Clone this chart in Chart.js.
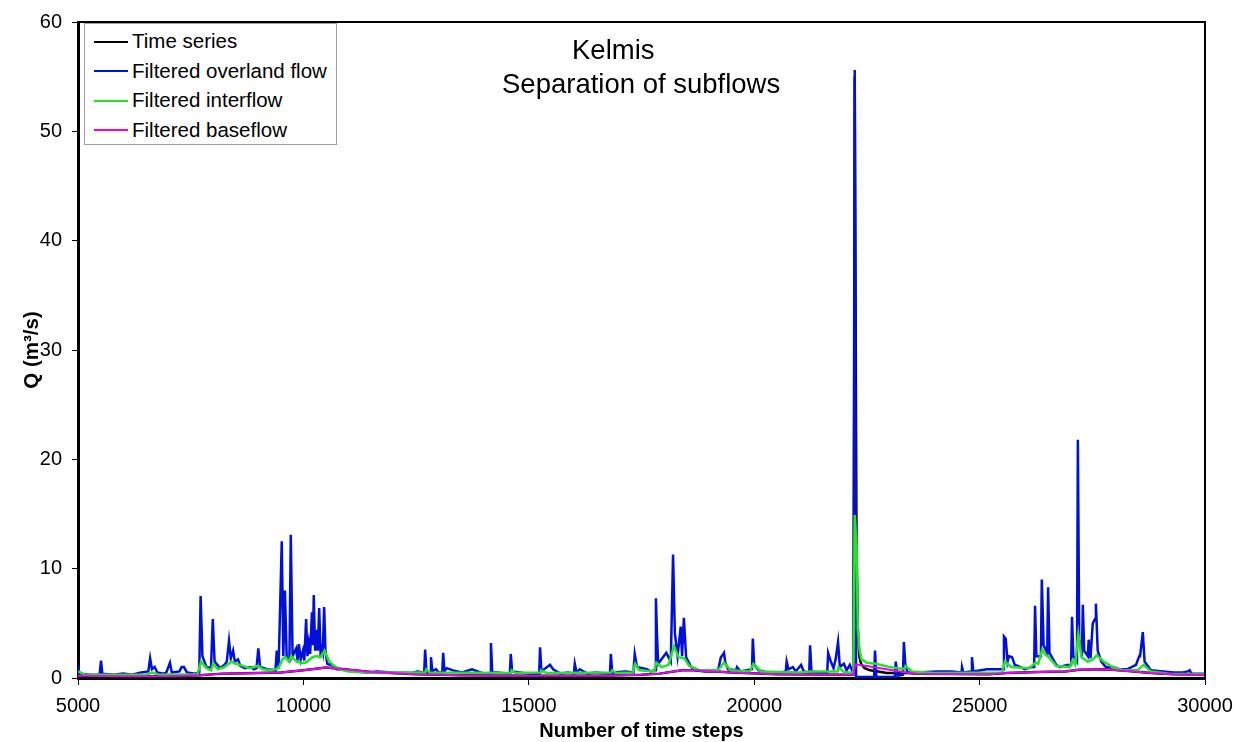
<!DOCTYPE html>
<html>
<head>
<meta charset="utf-8">
<script src="https://cdn.jsdelivr.net/npm/chart.js@4"></script>
<style>
  body { margin: 0; background: #fff; }
  #wrap { position: relative; width: 1250px; height: 742px; font-family: "Liberation Sans", Arial, sans-serif; }
  .ttl { position: absolute; font-size: 27.5px; line-height: 34px; color: #000; white-space: nowrap; }
  #legend { position: absolute; left: 84px; top: 23px; width: 253px; height: 122px; border: 1px solid #a0a0a0; background: #fff; box-sizing: border-box; }
  .row { position: absolute; left: 9px; height: 20px; font-size: 20.5px; line-height: 20px; color: #000; white-space: nowrap; }
  .row span { display: inline-block; width: 34px; height: 2px; vertical-align: middle; margin-right: 4px; position: relative; top: -1px; }
</style>
</head>
<body>
<div id="wrap">
  <canvas id="c" width="1250" height="742"></canvas>
  <div class="ttl" style="left:572px; top:33px;">Kelmis</div>
  <div class="ttl" style="left:502px; top:67px;">Separation of subflows</div>
  <div id="legend"></div>
</div>
<script>
// Q (m3/s) against time step
const timeSeries = [
  [5000,0.2],[6000,0.15],[7000,0.15],[7700,0.25],[8200,0.4],[9000,0.45],[9500,0.5],[10000,0.7],
  [10500,0.95],[10800,0.85],[11500,0.55],[12500,0.35],[13500,0.25],[15000,0.2],[16500,0.2],
  [17500,0.3],[17900,0.4],[18400,0.7],[18700,0.7],[19500,0.5],[20500,0.35],[22000,0.3],[22200,0.3],
  [22230,55],[22270,12],[22300,4.5],[22330,2.0],[22370,1.3],[22450,0.9],[22570,0.7],[22750,0.6],
  [22940,0.45],[23170,0.45],[23400,0.45],[23600,0.4],[25200,0.35],[25600,0.45],[26300,0.55],
  [26900,0.6],[27200,0.75],[27800,0.8],[28300,0.65],[28800,0.45],[29300,0.35],[30000,0.3]
];
const overlandFlow = [
  [5000,1.2],[5030,0.4],[5300,0.3],[5480,0.3],[5510,1.6],[5540,0.4],[5800,0.3],[6000,0.4],[6200,0.3],
  [6400,0.5],[6560,0.6],[6600,1.8],[6640,0.8],[6700,1.0],[6760,0.5],[6900,0.4],[6960,0.5],[7040,1.4],
  [7080,0.5],[7250,0.6],[7300,1.0],[7350,1.0],[7420,0.5],[7600,0.4],[7690,0.5],[7720,7.5],[7760,2.0],
  [7850,1.0],[7950,0.9],[7990,5.4],[8030,1.5],[8150,0.9],[8250,1.2],[8300,1.5],[8350,3.4],[8390,1.8],
  [8440,2.5],[8480,1.5],[8550,1.7],[8600,1.1],[8700,0.9],[8840,1.0],[8900,0.8],[8960,0.9],[9000,2.7],
  [9040,1.0],[9200,0.8],[9380,0.7],[9410,2.5],[9450,1.0],[9520,12.5],[9555,2.0],[9590,8.0],[9630,1.8],
  [9690,1.6],[9720,13.1],[9760,2.0],[9840,2.7],[9870,1.6],[9900,3.1],[9940,1.7],[9990,2.5],[10020,1.6],
  [10060,5.4],[10090,2.0],[10120,3.2],[10150,2.2],[10190,6.0],[10210,3.0],[10230,7.6],[10260,2.5],
  [10300,4.4],[10320,2.5],[10350,6.4],[10380,2.4],[10410,2.8],[10430,2.4],[10460,6.5],[10490,2.4],
  [10530,1.3],[10680,1.1],[10750,0.8],[11000,0.7],[11170,0.6],[11400,0.5],[11630,0.6],[12000,0.5],
  [12400,0.45],[12520,0.6],[12680,0.5],[12700,2.6],[12730,0.6],[12810,0.5],[12830,1.9],[12860,0.6],
  [12940,0.8],[13000,0.5],[13080,0.5],[13100,2.3],[13130,0.6],[13180,0.9],[13320,0.7],[13520,0.5],
  [13740,0.8],[14000,0.4],[14140,0.4],[14160,3.2],[14190,0.5],[14290,0.5],[14580,0.4],[14600,2.2],
  [14630,0.6],[15000,0.4],[15230,0.4],[15250,2.8],[15280,0.6],[15470,1.2],[15540,0.8],[15700,0.4],
  [15870,0.5],[16000,0.4],[16020,1.3],[16060,0.5],[16130,0.8],[16300,0.4],[16470,0.5],[16800,0.4],
  [16820,2.2],[16850,0.5],[17150,0.6],[17320,0.5],[17350,2.2],[17400,1.0],[17620,0.8],[17700,0.6],
  [17800,0.7],[17820,7.3],[17840,4.4],[17870,1.3],[17960,1.8],[18050,2.3],[18150,1.5],[18200,11.3],
  [18240,4.1],[18300,2.0],[18370,4.7],[18400,2.0],[18440,5.5],[18490,1.9],[18600,1.0],[18690,0.7],
  [18900,0.6],[19060,0.6],[19200,0.7],[19260,1.9],[19300,2.1],[19330,2.3],[19360,1.4],[19420,0.8],
  [19600,0.7],[19620,1.0],[19700,0.6],[19950,0.8],[19970,3.6],[20000,1.2],[20100,0.7],[20300,0.5],
  [20600,0.5],[20700,0.6],[20720,1.5],[20760,0.8],[20860,1.0],[20920,0.6],[21040,1.2],[21100,0.6],
  [21220,0.5],[21240,3.0],[21270,0.6],[21400,0.5],[21620,0.5],[21640,2.3],[21700,1.5],[21760,0.9],
  [21810,1.8],[21860,3.3],[21900,1.0],[21990,1.3],[22050,0.7],[22120,1.2],[22180,0.6],[22210,0.6],
  [22230,55.6],[22260,0.1],[22660,0.1],[22680,2.5],[22710,0.1],[23120,0.1],[23140,1.5],[23180,0.2],
  [23300,0.3],[23320,3.3],[23350,1.4],[23400,0.5],[23600,0.5],[24050,0.6],[24390,0.6],[24600,0.5],
  [24610,1.0],[24640,0.5],[24810,0.6],[24830,1.9],[24860,0.6],[25160,0.8],[25410,0.8],[25520,0.8],
  [25540,3.8],[25580,3.6],[25620,1.5],[25650,2.0],[25720,1.9],[25780,1.2],[25850,1.1],[26000,0.8],
  [26160,1.0],[26210,1.0],[26230,6.6],[26260,2.0],[26360,2.0],[26380,9.0],[26420,3.0],[26500,2.3],
  [26520,8.3],[26550,2.3],[26700,1.2],[26780,1.0],[26940,1.2],[27030,1.2],[27050,5.6],[27080,2.0],
  [27160,1.5],[27180,21.8],[27210,3.5],[27270,2.0],[27290,6.7],[27320,2.5],[27400,2.0],[27420,3.5],
  [27460,1.8],[27510,5.0],[27560,5.4],[27580,6.8],[27620,2.5],[27700,1.5],[27800,1.0],[27960,1.0],
  [28100,0.8],[28270,0.8],[28470,1.2],[28540,2.0],[28560,2.0],[28620,4.2],[28660,1.5],[28800,0.7],
  [29070,0.6],[29300,0.5],[29510,0.5],[29620,0.6],[29660,0.7],[29700,0.4],[30000,0.4]
];
const interflow = [
  [5000,0.6],[5150,0.3],[6500,0.3],[6650,0.5],[6800,0.3],[7650,0.35],[7730,1.5],[7850,0.9],[7950,0.7],
  [8000,1.3],[8100,0.8],[8250,1.0],[8400,1.5],[8500,1.3],[8600,1.2],[8800,0.9],[9000,1.1],[9100,0.8],
  [9300,0.7],[9450,0.9],[9530,1.7],[9600,1.9],[9680,1.5],[9730,2.0],[9850,1.5],[9950,1.4],[10050,1.4],
  [10200,1.9],[10300,2.0],[10380,1.9],[10470,2.5],[10560,1.6],[10650,1.2],[10800,0.8],[11000,0.6],
  [11500,0.5],[12700,0.5],[12730,0.8],[12800,0.5],[14600,0.45],[14620,0.7],[14700,0.45],[15250,0.5],
  [15270,0.7],[15400,0.45],[16820,0.5],[16850,0.7],[16950,0.45],[17300,0.5],[17360,1.3],[17450,0.7],
  [17780,0.6],[17830,1.4],[17950,1.0],[18100,1.2],[18220,2.9],[18320,1.9],[18450,1.8],[18560,1.1],
  [18800,0.7],[19200,0.7],[19330,1.4],[19480,0.7],[19900,0.6],[19980,1.3],[20150,0.6],[21000,0.5],
  [21250,0.6],[21850,0.6],[21870,1.0],[22000,0.5],[22200,0.5],[22230,14.9],[22270,12],[22300,4.4],
  [22340,2.5],[22380,1.7],[22500,1.4],[22700,1.3],[23000,1.0],[23320,0.8],[23360,1.1],[23500,0.6],
  [24000,0.45],[25500,0.5],[25560,1.5],[25700,1.0],[26100,0.9],[26240,1.4],[26300,1.3],[26390,2.6],
  [26470,2.1],[26540,1.9],[26700,1.1],[27000,1.0],[27060,1.6],[27120,1.2],[27190,4.0],[27260,1.9],
  [27400,1.5],[27520,1.7],[27600,2.1],[27750,1.5],[27950,1.0],[28200,0.7],[28500,0.7],[28640,1.2],
  [28800,0.6],[29200,0.4],[30000,0.35]
];
const baseflow = [
  [5000,0.2],[6000,0.15],[7000,0.15],[7700,0.25],[8200,0.4],[9000,0.45],[9500,0.5],[10000,0.7],
  [10500,0.95],[10800,0.85],[11500,0.55],[12500,0.35],[13500,0.25],[15000,0.2],[16500,0.2],
  [17500,0.3],[17900,0.4],[18400,0.7],[18700,0.7],[19500,0.5],[20500,0.35],[22000,0.3],[22200,0.3],
  [22240,1.25],[22500,1.1],[22800,0.9],[23000,0.75],[23300,0.55],[23600,0.4],[25200,0.35],
  [25600,0.45],[26300,0.55],[26900,0.6],[27200,0.75],[27800,0.8],[28300,0.65],[28800,0.45],
  [29300,0.35],[30000,0.3]
];
const seriesNames = ['Time series', 'Filtered overland flow', 'Filtered interflow', 'Filtered baseflow'];
const seriesColors = ['#000000', '#0010d8', '#22e622', '#f000f0'];
const seriesData = [timeSeries, overlandFlow, interflow, baseflow];
const xTicks = [5000, 10000, 15000, 20000, 25000, 30000];
const yTicks = [0, 10, 20, 30, 40, 50, 60];

const FONT = '"Liberation Sans", Arial, sans-serif';

// legend box (drawn over the plot like in the original)
const legend = document.getElementById('legend');
seriesNames.forEach((n, i) => {
    const r = document.createElement('div');
    r.className = 'row';
    r.style.top = (7 + i * 29.5) + 'px';
    r.innerHTML = `<span style="background:${seriesColors[i]}"></span>${n}`;
    legend.appendChild(r);
});

const frame = {
    id: 'frame',
    afterDraw(chart) {
        const { ctx, chartArea: a } = chart;
        ctx.save();
        ctx.strokeStyle = '#000';
        ctx.lineWidth = 2;
        ctx.beginPath();
        ctx.moveTo(a.left, a.top);
        ctx.lineTo(a.right, a.top);
        ctx.lineTo(a.right, a.bottom);
        ctx.stroke();
        ctx.restore();
    }
};

new Chart(document.getElementById('c'), {
    type: 'line',
    data: {
        datasets: seriesData.map((d, i) => ({
            label: seriesNames[i],
            data: d.map(p => ({ x: p[0], y: p[1] })),
            borderColor: seriesColors[i],
            borderWidth: i === 3 ? 2 : 2.5,
            pointRadius: 0,
            tension: 0,
            fill: false,
            order: 4 - i
        }))
    },
    options: {
        responsive: false,
        animation: false,
        devicePixelRatio: 1,
        layout: { padding: { top: 20, right: 45, left: 0, bottom: 0 } },
        plugins: { legend: { display: false }, tooltip: { enabled: false } },
        scales: {
            x: {
                type: 'linear', min: 5000, max: 30000,
                afterBuildTicks: s => { s.ticks = xTicks.map(v => ({ value: v })); },
                afterFit: s => { s.height = 64; },
                ticks: { color: '#000', font: { family: FONT, size: 20 }, padding: 9, maxRotation: 0, callback: v => String(v) },
                grid: { drawOnChartArea: false, drawTicks: true, tickLength: 7, color: '#000', tickWidth: 1 },
                border: { color: '#000', width: 3 },
                title: { display: true, text: 'Number of time steps', color: '#000', font: { family: FONT, size: 20, weight: 'bold' }, padding: { top: 0, bottom: -1 } }
            },
            y: {
                min: 0, max: 60,
                afterBuildTicks: s => { s.ticks = yTicks.map(v => ({ value: v })); },
                afterFit: s => { s.width = 78; },
                ticks: { color: '#000', font: { family: FONT, size: 20 }, padding: 10 },
                grid: { drawOnChartArea: false, drawTicks: true, tickLength: 6, color: '#000', tickWidth: 1 },
                border: { color: '#000', width: 3 },
                title: { display: true, text: 'Q (m³/s)', color: '#000', font: { family: FONT, size: 20.5, weight: 'bold' }, padding: { top: 20, bottom: 0 } }
            }
        }
    },
    plugins: [frame]
});
</script>
</body>
</html>
